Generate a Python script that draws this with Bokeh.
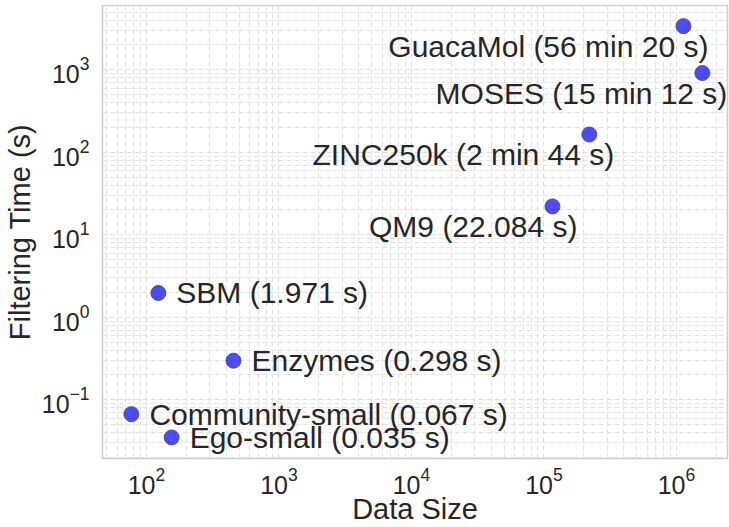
from bokeh.plotting import figure
from bokeh.models import Range1d, FixedTicker, LogTickFormatter, ColumnDataSource
from bokeh.core.properties import value
from bokeh.embed import file_html
from bokeh.resources import INLINE

# Dataset sizes (number of samples) and filtering times (seconds)
datasets = ["GuacaMol", "MOSES", "ZINC250k", "QM9", "SBM", "Enzymes",
            "Community-small", "Ego-small"]
data_size = [1.13e6, 1.57e6, 2.2e5, 1.16e5, 123, 454, 77, 155]
filter_time = [3380, 912, 164, 22.084, 1.971, 0.298, 0.067, 0.035]
time_labels = ["56 min 20 s", "15 min 12 s", "2 min 44 s", "22.084 s",
               "1.971 s", "0.298 s", "0.067 s", "0.035 s"]
# large datasets get their label below-left of the point
label_below = [True, True, True, True, False, False, False, False]

FONT = "Liberation Sans"
TEXT = "#262626"

p = figure(width=729, height=527, x_axis_type="log", y_axis_type="log",
           output_backend="svg", toolbar_location=None,
           x_range=Range1d(46.6, 2.43e6), y_range=Range1d(0.01945, 6010),
           min_border_left=0, min_border_right=2, min_border_top=5,
           min_border_bottom=0)

decades_x = list(range(1, 8))
decades_y = list(range(-2, 5))
p.xaxis.ticker = FixedTicker(ticks=[10.0 ** k for k in decades_x],
                             minor_ticks=[m * 10.0 ** k for k in decades_x for m in range(2, 10)])
p.yaxis.ticker = FixedTicker(ticks=[10.0 ** k for k in decades_y],
                             minor_ticks=[m * 10.0 ** k for k in decades_y for m in range(2, 10)])
p.xaxis.formatter = LogTickFormatter()
p.yaxis.formatter = LogTickFormatter()

for ax in (p.xaxis, p.yaxis):
    ax.axis_line_color = None
    ax.major_tick_line_color = None
    ax.minor_tick_line_color = None
    ax.major_tick_out = 0
    ax.minor_tick_out = 0
    ax.major_label_text_font = FONT
    ax.major_label_text_font_size = "25px"
    ax.major_label_text_color = TEXT
    ax.axis_label_text_font = FONT
    ax.axis_label_text_font_size = "29px"
    ax.axis_label_text_font_style = "normal"
    ax.axis_label_text_color = TEXT

p.xaxis.axis_label = "Data Size"
p.yaxis.axis_label = "Filtering Time (s)"
p.xaxis.major_label_standoff = 8
p.xaxis.axis_label_standoff = -4
p.yaxis.major_label_standoff = 13
p.yaxis.axis_label_standoff = 3

for g in (p.xgrid, p.ygrid):
    g.grid_line_color = "#dcdcdc"
    g.grid_line_width = 1
    g.grid_line_dash = "5 3"
    g.minor_grid_line_color = "#e2e2e2"
    g.minor_grid_line_width = 1
    g.minor_grid_line_dash = "5 3"

p.outline_line_color = "#cccccc"
p.outline_line_width = 1.5
p.background_fill_color = "white"
p.border_fill_color = "white"

src = ColumnDataSource(dict(x=data_size, y=filter_time))

p.scatter("x", "y", source=src, size=15, fill_color="blue", fill_alpha=0.7,
          line_color="#555555", line_width=1)

below = [i for i, b in enumerate(label_below) if b]
right = [i for i, b in enumerate(label_below) if not b]

src_below = ColumnDataSource(dict(
    x=[data_size[i] for i in below], y=[filter_time[i] for i in below],
    label=[f"{datasets[i]} ({time_labels[i]})" for i in below]))
src_right = ColumnDataSource(dict(
    x=[data_size[i] for i in right], y=[filter_time[i] for i in right],
    label=[f"{datasets[i]} ({time_labels[i]})" for i in right]))

p.text("x", "y", text="label", source=src_below, text_align="right",
       text_baseline="middle", x_offset=25, y_offset=20,
       text_font=value(FONT), text_font_size="30px", text_color=TEXT)
p.text("x", "y", text="label", source=src_right, text_align="left",
       text_baseline="middle", x_offset=18, y_offset=0,
       text_font=value(FONT), text_font_size="30px", text_color=TEXT)

open("out.html", "w").write(file_html(p, INLINE))
